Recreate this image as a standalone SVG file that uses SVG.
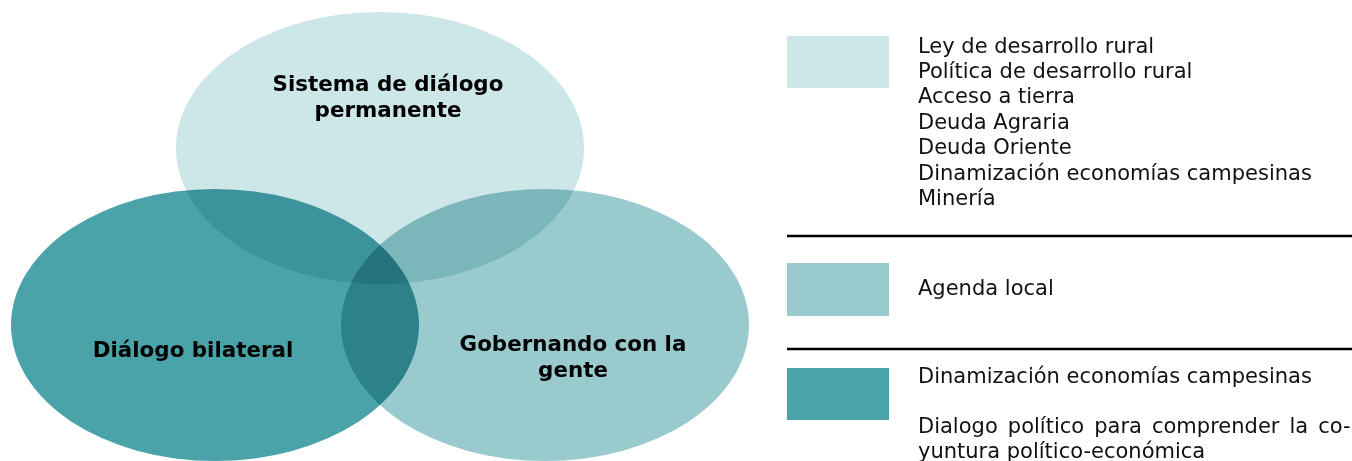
<svg xmlns="http://www.w3.org/2000/svg" width="1352" height="461" viewBox="0 0 1352 461">
  <style>
    .blob { mix-blend-mode: multiply; }
    .c1 { fill: #cde6e8; }
    .c2 { fill: #99cacd; }
    .c3 { fill: #4ba3aa; }
    .title { font-family: "DejaVu Sans", Verdana, sans-serif; font-size: 21.4px; font-weight: bold; fill: #000; text-anchor: middle; }
    .leg { font-family: "DejaVu Sans", Verdana, sans-serif; font-size: 21px; fill: #111; }
    .sep { stroke: #000; stroke-width: 2.4; }
  </style>
  <rect x="0" y="0" width="1352" height="461" fill="#fff"/>

  <g id="node-sistema">
    <ellipse class="blob c1" cx="380" cy="148" rx="204" ry="136"/>
  </g>
  <g id="node-dialogo">
    <ellipse class="blob c3" cx="215" cy="325" rx="204" ry="136"/>
  </g>
  <g id="node-gobernando">
    <ellipse class="blob c2" cx="545" cy="325" rx="204" ry="136"/>
  </g>

  <g id="labels">
    <text class="title" x="388" y="91">Sistema de diálogo</text>
    <text class="title" x="388" y="117">permanente</text>
    <text class="title" x="193" y="357">Diálogo bilateral</text>
    <text class="title" x="573" y="351">Gobernando con la</text>
    <text class="title" x="573" y="377">gente</text>
  </g>

  <g id="connectors">
    <line class="sep" x1="787" y1="236" x2="1352" y2="236"/>
    <line class="sep" x1="787" y1="349" x2="1352" y2="349"/>
  </g>

  <g id="legend-1">
    <rect class="c1" x="787" y="36" width="102" height="52"/>
    <text class="leg" x="918" y="52.5">Ley de desarrollo rural</text>
    <text class="leg" x="918" y="77.9">Política de desarrollo rural</text>
    <text class="leg" x="918" y="103.3">Acceso a tierra</text>
    <text class="leg" x="918" y="128.7">Deuda Agraria</text>
    <text class="leg" x="918" y="154.1">Deuda Oriente</text>
    <text class="leg" x="918" y="179.5">Dinamización economías campesinas</text>
    <text class="leg" x="918" y="204.9">Minería</text>
  </g>

  <g id="legend-2">
    <rect class="c2" x="787" y="263" width="102" height="53"/>
    <text class="leg" x="918" y="295">Agenda local</text>
  </g>

  <g id="legend-3">
    <rect class="c3" x="787" y="368" width="102" height="52"/>
    <text class="leg" x="918" y="383">Dinamización economías campesinas</text>
    <text class="leg" x="918" y="433" word-spacing="3.4">Dialogo político para comprender la co-</text>
    <text class="leg" x="918" y="458">yuntura político-económica</text>
  </g>
</svg>
